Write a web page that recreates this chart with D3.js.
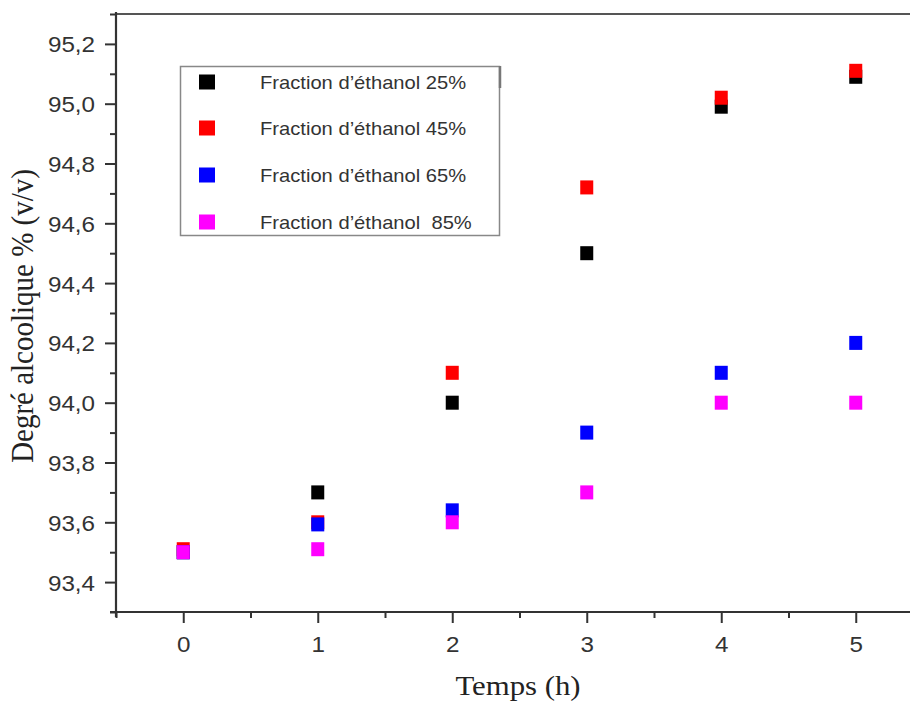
<!DOCTYPE html>
<html>
<head>
<meta charset="utf-8">
<script src="https://cdn.jsdelivr.net/npm/d3@7"></script>
<style>
  html, body { margin: 0; padding: 0; background: #fff; }
  svg { display: block; }
</style>
</head>
<body>
<svg id="chart" width="910" height="704"></svg>
<script>
// Time points (h)
const times = [0, 1, 2, 3, 4, 5];
// Alcohol degree (% v/v) for each ethanol fraction
const frac25 = [93.5, 93.7, 94.0, 94.5, 94.99, 95.09];
const frac45 = [93.51, 93.6, 94.1, 94.72, 95.02, 95.11];
const frac65 = [93.5, 93.593, 93.64, 93.9, 94.1, 94.2];
const frac85 = [93.5, 93.51, 93.6, 93.7, 94.0, 94.0];

const seriesNames = ["Fraction d\u2019éthanol 25%", "Fraction d\u2019éthanol 45%", "Fraction d\u2019éthanol 65%", "Fraction d\u2019éthanol  85%"];
const seriesColors = ["#000000", "#ff0000", "#0000ff", "#ff00ff"];
const seriesValues = [frac25, frac45, frac65, frac85];

const yTicks = [93.4, 93.6, 93.8, 94.0, 94.2, 94.4, 94.6, 94.8, 95.0, 95.2];
const yMinorTicks = [93.3, 93.5, 93.7, 93.9, 94.1, 94.3, 94.5, 94.7, 94.9, 95.1, 95.3];
const xTicks = [0, 1, 2, 3, 4, 5];
const xMinorTicks = [-0.5, 0.5, 1.5, 2.5, 3.5, 4.5];

const svg = d3.select("#chart");

const x = d3.scaleLinear().domain([-0.5, 5.5]).range([116, 923]);
const y = d3.scaleLinear().domain([93.3, 95.3]).range([612, 14]);

const axisColor = "#333";

// top frame line
svg.append("line")
  .attr("x1", 116).attr("x2", 923)
  .attr("y1", y(95.3)).attr("y2", y(95.3))
  .attr("stroke", "#555").attr("stroke-width", 2);

// minor ticks
svg.append("g")
  .attr("transform", `translate(${x(-0.5)},0)`)
  .call(d3.axisLeft(y).tickValues(yMinorTicks).tickSize(6).tickFormat(""))
  .call(g => g.select(".domain").remove())
  .call(g => g.selectAll("line").attr("stroke", axisColor).attr("stroke-width", 2));

svg.append("g")
  .attr("transform", `translate(0,${y(93.3)})`)
  .call(d3.axisBottom(x).tickValues(xMinorTicks).tickSize(6).tickFormat(""))
  .call(g => g.select(".domain").remove())
  .call(g => g.selectAll("line").attr("stroke", axisColor).attr("stroke-width", 2));

// y axis
const yAxis = svg.append("g")
  .attr("transform", `translate(${x(-0.5)},0)`)
  .call(d3.axisLeft(y).tickValues(yTicks).tickSize(11).tickSizeOuter(0)
    .tickFormat(d => d.toFixed(1).replace(".", ",")));
yAxis.select(".domain").attr("stroke", axisColor).attr("stroke-width", 2.2)
  .attr("d", `M0,${y(95.3) - 2}V${y(93.3) + 5}`);
yAxis.selectAll(".tick line").attr("stroke", axisColor).attr("stroke-width", 2);
yAxis.selectAll(".tick text")
  .attr("x", -21 / 1.1)
  .attr("dy", "0.36em")
  .attr("transform", "scale(1.1,1)")
  .attr("fill", "#333")
  .style("font-family", "'Liberation Sans', Arial, sans-serif")
  .style("font-size", "22px");

// x axis
const xAxis = svg.append("g")
  .attr("transform", `translate(0,${y(93.3)})`)
  .call(d3.axisBottom(x).tickValues(xTicks).tickSize(11).tickSizeOuter(0)
    .tickFormat(d => String(d)));
xAxis.select(".domain").attr("stroke", axisColor).attr("stroke-width", 2.2)
  .attr("d", `M${x(-0.5) - 6},0H${x(5.5)}`);
xAxis.selectAll(".tick line").attr("stroke", axisColor).attr("stroke-width", 2);
xAxis.selectAll(".tick text")
  .attr("y", 40)
  .attr("dy", 0)
  .attr("transform", "scale(1.1,1)")
  .attr("fill", "#333")
  .style("font-family", "'Liberation Sans', Arial, sans-serif")
  .style("font-size", "22px");

// data markers
const mw = 13, mh = 14;
seriesValues.forEach((vals, i) => {
  svg.append("g")
    .selectAll("rect")
    .data(times.map((t, j) => ({ t, v: vals[j] })))
    .join("rect")
    .attr("x", d => x(d.t) - mw / 2)
    .attr("y", d => y(d.v) - mh / 2)
    .attr("width", mw)
    .attr("height", mh)
    .attr("fill", seriesColors[i]);
});

// legend
const legend = svg.append("g");
legend.append("rect")
  .attr("x", 180.5).attr("y", 66.5)
  .attr("width", 319).attr("height", 169)
  .attr("fill", "none").attr("stroke", "#888").attr("stroke-width", 1.5);
legend.append("line")
  .attr("x1", 500).attr("x2", 500).attr("y1", 66).attr("y2", 88)
  .attr("stroke", "#777").attr("stroke-width", 2.5);
const rowY = [82, 128, 175, 222];
seriesNames.forEach((name, i) => {
  legend.append("rect")
    .attr("x", 207 - 8).attr("y", rowY[i] - 7.5)
    .attr("width", 16).attr("height", 15)
    .attr("fill", seriesColors[i]);
  legend.append("text")
    .attr("transform", `translate(260,${rowY[i] + 6.5}) scale(1.12,1)`)
    .attr("fill", "#333")
    .style("font-family", "'Liberation Sans', Arial, sans-serif")
    .style("font-size", "18px")
    .style("white-space", "pre")
    .text(name);
});

// axis titles
svg.append("text")
  .attr("transform", "translate(33,316) rotate(-90) scale(1,1.1)")
  .attr("text-anchor", "middle")
  .attr("fill", "#222")
  .style("font-family", "'Liberation Serif', 'Times New Roman', serif")
  .style("font-size", "29px")
  .text("Degré alcoolique % (v/v)");

svg.append("text")
  .attr("transform", "translate(518,695) scale(1.1,1)")
  .attr("text-anchor", "middle")
  .attr("fill", "#222")
  .style("font-family", "'Liberation Serif', 'Times New Roman', serif")
  .style("font-size", "28px")
  .text("Temps (h)");
</script>
</body>
</html>
